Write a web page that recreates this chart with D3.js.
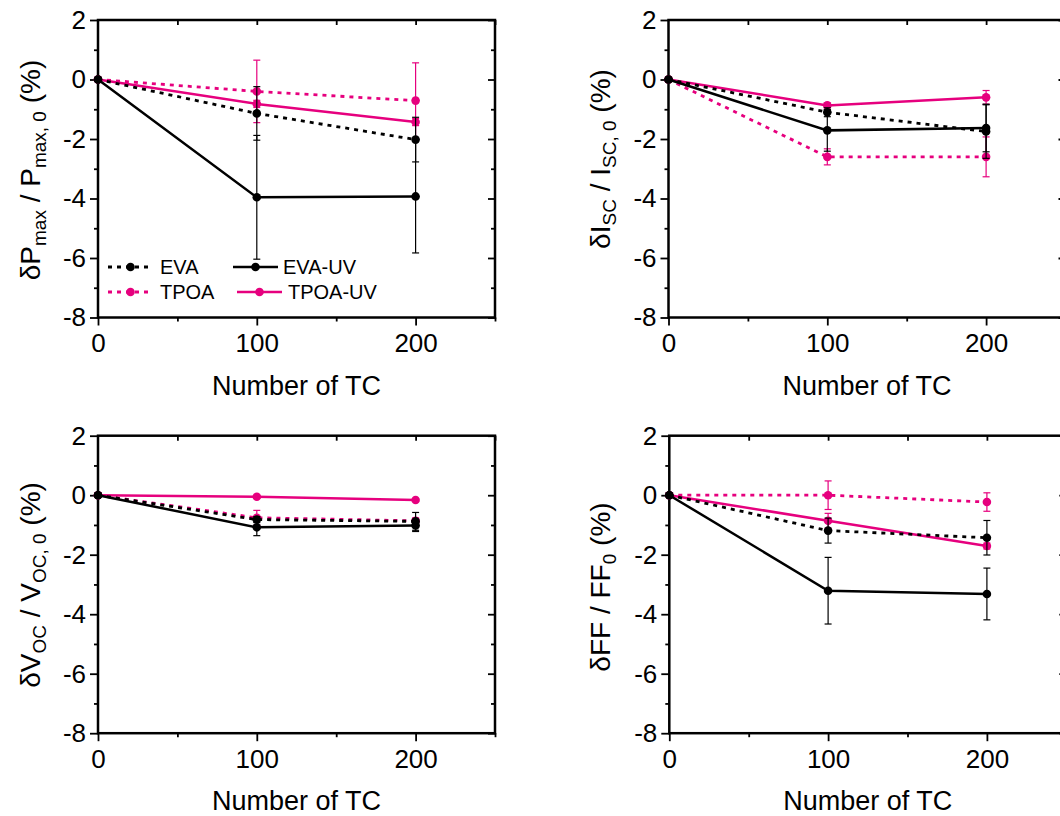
<!DOCTYPE html>
<html><head><meta charset="utf-8">
<script src="https://cdn.jsdelivr.net/npm/d3@7"></script>
<style>
html,body{margin:0;padding:0;background:#fff;}
svg text{font-family:"Liberation Sans",Arial,sans-serif;fill:#000;}
</style></head>
<body>
<svg id="chart" width="1060" height="816"></svg>
<script>
// ---- data ----
const cycles = [0, 100, 200];
const seriesNames = ["EVA", "EVA-UV", "TPOA", "TPOA-UV"];
const xTicks = [0, 100, 200];
const yTicks = [2, 0, -2, -4, -6, -8];

// δPmax
const pmaxEVA = [0, -1.14, -2.02],   pmaxEVAErr = [0, 0.90, 0.75];
const pmaxEVAUV = [0, -3.96, -3.93], pmaxEVAUVErr = [0, 2.08, 1.90];
const pmaxTPOA = [0, -0.40, -0.71],  pmaxTPOAErr = [0, 1.05, 1.27];
const pmaxTPOAUV = [0, -0.82, -1.43], pmaxTPOAUVErr = [0, 0.12, 0.12];
// δIsc
const iscEVA = [0, -1.10, -1.75],   iscEVAErr = [0, 0.15, 0.90];
const iscEVAUV = [0, -1.71, -1.63], iscEVAUVErr = [0, 0.70, 0.80];
const iscTPOA = [0, -2.60, -2.60],  iscTPOAErr = [0, 0.27, 0.67];
const iscTPOAUV = [0, -0.87, -0.60], iscTPOAUVErr = [0, 0.08, 0.23];
// δVoc
const vocEVA = [0, -0.82, -0.88],   vocEVAErr = [0, 0.10, 0.30];
const vocEVAUV = [0, -1.08, -1.02], vocEVAUVErr = [0, 0.28, 0.20];
const vocTPOA = [0, -0.76, -0.86],  vocTPOAErr = [0, 0.25, 0.10];
const vocTPOAUV = [0, -0.05, -0.16], vocTPOAUVErr = [0, 0.05, 0.04];
// δFF
const ffEVA = [0, -1.19, -1.43],   ffEVAErr = [0, 0.42, 0.58];
const ffEVAUV = [0, -3.21, -3.32], ffEVAUVErr = [0, 1.12, 0.87];
const ffTPOA = [0, 0.00, -0.23],   ffTPOAErr = [0, 0.48, 0.31];
const ffTPOAUV = [0, -0.86, -1.71], ffTPOAUVErr = [0, 0.25, 0.10];

const PINK = "#E6007E";
const styles = {
  "EVA":     {color: "#000", dash: "4,5"},
  "EVA-UV":  {color: "#000", dash: null},
  "TPOA":    {color: PINK,   dash: "4,5"},
  "TPOA-UV": {color: PINK,   dash: null}
};

const panels = [
  {x: 98, y: 20, label: [["δP",""],["max","sub"],[" / P",""],["max, 0","sub"],[" (%)",""]], lx: 40, ly: 170,
   series: {"EVA":[pmaxEVA,pmaxEVAErr],"EVA-UV":[pmaxEVAUV,pmaxEVAUVErr],"TPOA":[pmaxTPOA,pmaxTPOAErr],"TPOA-UV":[pmaxTPOAUV,pmaxTPOAUVErr]}, legend: true},
  {x: 668.5, y: 20, label: [["δI",""],["SC","sub"],[" / I",""],["SC, 0","sub"],[" (%)",""]], lx: 610, ly: 159,
   series: {"EVA":[iscEVA,iscEVAErr],"EVA-UV":[iscEVAUV,iscEVAUVErr],"TPOA":[iscTPOA,iscTPOAErr],"TPOA-UV":[iscTPOAUV,iscTPOAUVErr]}},
  {x: 98, y: 435.7, label: [["δV",""],["OC","sub"],[" / V",""],["OC, 0","sub"],[" (%)",""]], lx: 40, ly: 585,
   series: {"EVA":[vocEVA,vocEVAErr],"EVA-UV":[vocEVAUV,vocEVAUVErr],"TPOA":[vocTPOA,vocTPOAErr],"TPOA-UV":[vocTPOAUV,vocTPOAUVErr]}},
  {x: 669.3, y: 435.7, label: [["δFF / FF",""],["0","sub"],[" (%)",""]], lx: 610, ly: 587,
   series: {"EVA":[ffEVA,ffEVAErr],"EVA-UV":[ffEVAUV,ffEVAUVErr],"TPOA":[ffTPOA,ffTPOAErr],"TPOA-UV":[ffTPOAUV,ffTPOAUVErr]}}
];

const W = 397, H = 297.5;
const svg = d3.select("#chart");
const drawOrder = ["TPOA", "TPOA-UV", "EVA", "EVA-UV"];

panels.forEach(p => {
  const g = svg.append("g").attr("transform", `translate(${p.x},${p.y})`);
  const x = d3.scaleLinear().domain([0, 250]).range([0, W]);
  const y = d3.scaleLinear().domain([-8, 2]).range([H, 0]);

  const styleAxis = a => { a.select(".domain").remove(); a.selectAll("line").attr("stroke", "#000").attr("stroke-width", 1.8); };
  const styleText = a => a.selectAll("text").attr("font-size", 26).attr("font-family", "Liberation Sans, Arial");
  g.append("g").attr("transform", `translate(0,${H})`)
    .call(d3.axisBottom(x).tickValues(xTicks).tickSize(8).tickPadding(8).tickFormat(d => d))
    .call(styleAxis).call(styleText);
  g.append("g").attr("transform", `translate(0,${H})`)
    .call(d3.axisBottom(x).tickValues([50, 150, 250]).tickSize(4).tickFormat(""))
    .call(styleAxis);
  g.append("g").call(d3.axisTop(x).tickValues([50, 100, 150, 200, 250]).tickSize(-5).tickFormat("")).call(styleAxis);
  g.append("g")
    .call(d3.axisLeft(y).tickValues(yTicks).tickSize(8).tickPadding(4).tickFormat(d => String(d)))
    .call(styleAxis).call(styleText);
  g.append("g").call(d3.axisLeft(y).tickValues([1, -1, -3, -5, -7]).tickSize(4).tickFormat("")).call(styleAxis);
  g.append("g").attr("transform", `translate(${W},0)`)
    .call(d3.axisRight(y).tickValues(yTicks).tickSize(-7).tickFormat("")).call(styleAxis);
  g.append("g").attr("transform", `translate(${W},0)`)
    .call(d3.axisRight(y).tickValues([1, -1, -3, -5, -7]).tickSize(-4).tickFormat("")).call(styleAxis);
  g.append("rect").attr("x", 0).attr("y", 0).attr("width", W).attr("height", H)
    .attr("fill", "none").attr("stroke", "#000").attr("stroke-width", 2.5);

  drawOrder.forEach(name => {
    const [vals, errs] = p.series[name];
    const st = styles[name];
    const pts = cycles.map((c, i) => ({c, v: vals[i], e: errs[i]}));
    g.append("path").datum(pts)
      .attr("d", d3.line().x(d => x(d.c)).y(d => y(d.v)))
      .attr("fill", "none").attr("stroke", st.color).attr("stroke-width", st.dash ? 2.8 : 2.5)
      .attr("stroke-dasharray", st.dash);
    const eb = g.append("g").attr("stroke", st.color).attr("stroke-width", 1.2);
    pts.filter(d => d.e > 0).forEach(d => {
      eb.append("line").attr("x1", x(d.c)).attr("x2", x(d.c)).attr("y1", y(d.v + d.e)).attr("y2", y(d.v - d.e));
      [d.v + d.e, d.v - d.e].forEach(v => eb.append("line")
        .attr("x1", x(d.c) - 3.5).attr("x2", x(d.c) + 3.5).attr("y1", y(v)).attr("y2", y(v)));
    });
    g.append("g").selectAll("circle").data(pts).join("circle")
      .attr("cx", d => x(d.c)).attr("cy", d => y(d.v)).attr("r", 4.3).attr("fill", st.color);
  });

  g.append("text").attr("x", W / 2).attr("y", H + 77).attr("text-anchor", "middle")
    .attr("font-size", 27).text("Number of TC");
  const t = svg.append("text").attr("transform", `translate(${p.lx},${p.ly}) rotate(-90)`)
    .attr("text-anchor", "middle").attr("font-size", 28);
  p.label.forEach(([s, kind], i) => {
    const ts = t.append("tspan").text(s);
    if (kind === "sub") ts.attr("font-size", 19).attr("dy", 6);
    else if (i > 0 && p.label[i - 1][1] === "sub") ts.attr("dy", -6);
  });

  if (p.legend) {
    const lg = g.append("g");
    const items = [
      {name: "EVA", lx: 10, ly: 247, tx: 62},
      {name: "EVA-UV", lx: 135, ly: 247, tx: 185},
      {name: "TPOA", lx: 10, ly: 272, tx: 62},
      {name: "TPOA-UV", lx: 139, ly: 272, tx: 190}
    ];
    items.forEach(it => {
      const st = styles[it.name];
      lg.append("line").attr("x1", it.lx).attr("x2", it.lx + 45).attr("y1", it.ly).attr("y2", it.ly)
        .attr("stroke", st.color).attr("stroke-width", st.dash ? 2.8 : 2.5).attr("stroke-dasharray", st.dash);
      lg.append("circle").attr("cx", it.lx + 22.5).attr("cy", it.ly).attr("r", 4.3).attr("fill", st.color);
      lg.append("text").attr("x", it.tx).attr("y", it.ly + 7).attr("font-size", 20).text(it.name);
    });
  }
});
</script>
</body></html>
